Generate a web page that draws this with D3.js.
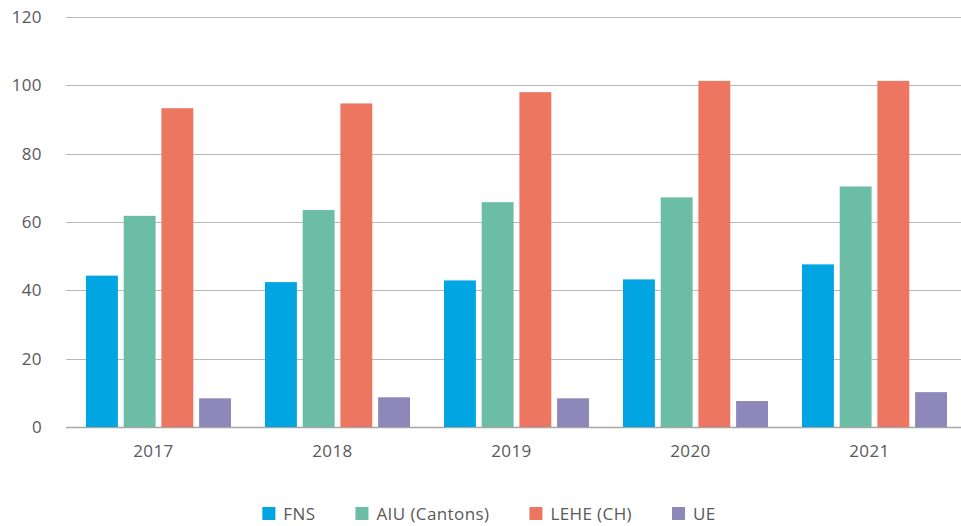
<!DOCTYPE html>
<html><head><meta charset="utf-8">
<script src="https://cdn.jsdelivr.net/npm/d3@7"></script>
<style>
html,body{margin:0;padding:0;background:#fff;}
svg{display:block;font-family:"Open Sans","Noto Sans",sans-serif;}
text{letter-spacing:0.4px;}
</style></head>
<body>
<svg id="chart" width="961" height="526"></svg>
<script>
const years = ["2017","2018","2019","2020","2021"];
const seriesNames = ["FNS","AIU (Cantons)","LEHE (CH)","UE"];
const fns  = [44.3, 42.4, 42.9, 43.2, 47.6];
const aiu  = [61.8, 63.5, 65.8, 67.2, 70.4];
const lehe = [93.3, 94.7, 98.0, 101.3, 101.3];
const ue   = [8.4, 8.7, 8.4, 7.6, 10.2];
const yTicks = [0, 20, 40, 60, 80, 100, 120];
const colors = ["#00A5E1", "#6BBDA5", "#EC7660", "#8E87BA"];

(function () {
const seriesValues = [fns, aiu, lehe, ue];
const svg = d3.select("#chart");
const mLeft = 66, mRight = 961, mTop = 17, mBottom = 427;
const fs = 17;

const x0 = d3.scaleBand().domain(years).range([mLeft, mRight]).padding(0);
const x1 = d3.scaleBand().domain(seriesNames).range([20, 165]).paddingInner(0.154);
const y = d3.scaleLinear().domain([0, 120]).range([mBottom, mTop]);

// gridlines
svg.append("g").selectAll("line").data(yTicks).join("line")
  .attr("x1", mLeft).attr("x2", mRight)
  .attr("y1", d => Math.round(y(d)) + 0.5).attr("y2", d => Math.round(y(d)) + 0.5)
  .attr("stroke", d => d === 0 ? "#A6A6A6" : "#B8B8B8").attr("stroke-width", d => d === 0 ? 1.5 : 1);

// y tick labels
svg.append("g").selectAll("text").data(yTicks).join("text")
  .attr("x", 42).attr("y", d => y(d)).attr("dy", "0.35em")
  .attr("text-anchor", "end").attr("font-size", fs).attr("fill", "#595959")
  .text(d => d);

// bars
const groups = svg.append("g").selectAll("g").data(years).join("g")
  .attr("transform", d => `translate(${x0(d)},0)`);
groups.selectAll("rect")
  .data((yr, i) => seriesNames.map((s, j) => ({s, j, v: seriesValues[j][i]})))
  .join("rect")
  .attr("x", d => x1(d.s)).attr("width", x1.bandwidth())
  .attr("y", d => y(d.v)).attr("height", d => y(0) - y(d.v))
  .attr("fill", d => colors[d.j]);

// x labels
svg.append("g").selectAll("text").data(years).join("text")
  .attr("x", d => x0(d) + x0.bandwidth() / 2 - 2).attr("y", 457)
  .attr("text-anchor", "middle").attr("font-size", fs).attr("fill", "#595959")
  .text(d => d);

// legend
const lg = svg.append("g");
let cx = 0;
const gap = 40;
seriesNames.forEach((s, j) => {
  const g = lg.append("g");
  g.append("rect").attr("x", 0).attr("y", -13).attr("width", 13).attr("height", 13).attr("fill", colors[j]);
  const t = g.append("text").attr("x", 21).attr("y", 0).attr("font-size", fs).attr("fill", "#595959").text(s);
  const w = 21 + t.node().getComputedTextLength();
  g.attr("transform", `translate(${cx},0)`);
  cx += w + gap;
});
const totalW = cx - gap;
lg.attr("transform", `translate(${489 - totalW / 2},520)`);
})();
</script>
</body></html>
